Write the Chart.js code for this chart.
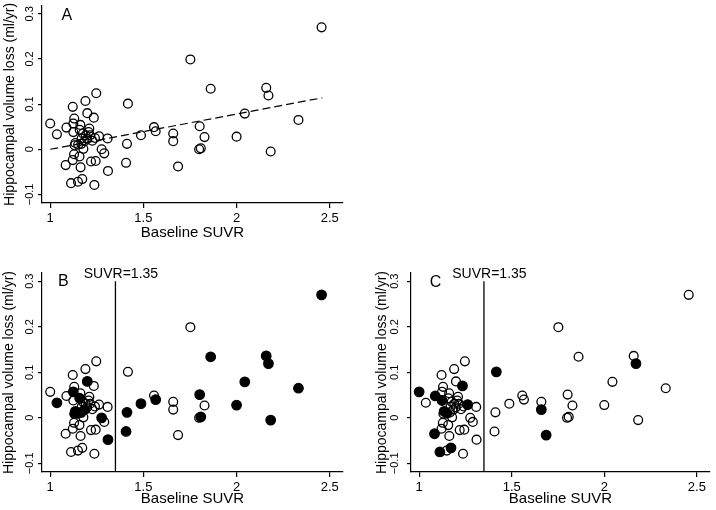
<!DOCTYPE html>
<html>
<head>
<meta charset="utf-8">
<script src="https://cdn.jsdelivr.net/npm/chart.js@4.4.1/dist/chart.umd.min.js"></script>
<style>
  html, body { margin: 0; padding: 0; background: #fff; overflow: hidden; }
  #wrap { position: relative; width: 716px; height: 510px; }
  canvas { position: absolute; }
</style>
</head>
<body>
<div id="wrap">
  <canvas id="chartA" width="358" height="245" style="left:0px;top:0px"></canvas>
  <canvas id="chartB" width="358" height="262" style="left:0px;top:248px"></canvas>
  <canvas id="chartC" width="347" height="262" style="left:369px;top:248px"></canvas>
</div>
<script>
// baseline SUVR and hippocampal volume loss, one entry per subject
const suvr = [
  1.000, 1.036, 1.083, 1.087, 1.112, 1.121, 1.121, 1.128, 1.129, 1.124,
  1.124, 1.135, 1.131, 1.150, 1.149, 1.157, 1.158, 1.162, 1.163, 1.172,
  1.167, 1.178, 1.169, 1.189, 1.190, 1.199, 1.206, 1.210, 1.219, 1.226,
  1.234, 1.237, 1.240, 1.244, 1.247, 1.262, 1.276, 1.290, 1.308, 1.310,
  1.407, 1.412, 1.417, 1.487, 1.557, 1.566, 1.660, 1.660, 1.686, 1.752,
  1.802, 1.799, 1.808, 1.828, 1.861, 2.000, 2.044, 2.159, 2.171, 2.183,
  2.332, 2.456, 1.185, 1.198, 1.214, 1.176
];
const hvLoss = [
  0.057, 0.033, -0.035, 0.048, -0.075, 0.094, -0.024, -0.011, 0.068, 0.057,
  0.038, 0.014, 0.009, 0.010, -0.072, -0.016, 0.043, 0.054, -0.040, -0.066,
  0.012, 0.001, 0.024, 0.107, 0.031, 0.080, 0.038, 0.046, -0.027, 0.019,
  0.070, -0.079, 0.025, -0.026, 0.124, 0.029, 0.000, -0.009, 0.024, -0.048,
  -0.030, 0.012, 0.101, 0.031, 0.049, 0.040, 0.035, 0.018, -0.038, 0.199,
  0.051, 0.000, 0.002, 0.027, 0.134, 0.028, 0.079, 0.136, 0.119, -0.005,
  0.065, 0.270, 0.018, 0.023, 0.031, 0.035
];
// 1 = solid marker in panel B / panel C
const solidB = [
  0, 1, 0, 0, 0, 0, 0, 0, 0, 1,
  0, 1, 1, 1, 0, 0, 1, 0, 0, 0,
  1, 0, 0, 0, 0, 1, 0, 0, 0, 0,
  0, 0, 0, 0, 0, 0, 1, 0, 0, 1,
  1, 1, 0, 1, 0, 1, 0, 0, 0, 0,
  1, 0, 1, 0, 1, 1, 1, 1, 1, 1,
  1, 1, 1, 0, 0, 0
];
const solidC = [
  1, 0, 1, 1, 1, 0, 0, 0, 0, 0,
  1, 1, 0, 1, 0, 0, 0, 0, 0, 1,
  0, 0, 0, 0, 0, 0, 0, 0, 0, 0,
  1, 0, 0, 0, 0, 1, 0, 0, 0, 0,
  0, 0, 1, 0, 0, 0, 0, 1, 1, 0,
  0, 0, 0, 0, 0, 0, 0, 0, 1, 0,
  0, 0, 0, 0, 0, 0
];

const xTicks = [1, 1.5, 2, 2.5];
const yTicks = [-0.1, 0, 0.1, 0.2, 0.3];
const fitX = [1, 2.46];
const fitY = [0.0, 0.114];
const cutoff = 1.35;
const cutoffTop = 0.3;

const X_MIN = 0.956, X_MAX = 2.571;
const Y_MIN = -0.119, Y_MAX = 0.318;

Chart.defaults.font.family = '"Liberation Sans", Arial, sans-serif';
Chart.defaults.color = '#000';
Chart.defaults.animation = false;

const panelText = {
  id: 'panelText',
  afterDraw(chart, args, opts) {
    const {ctx, chartArea} = chart;
    const x = chart.scales.x, y = chart.scales.y;
    ctx.save();
    ctx.fillStyle = '#000';
    ctx.textAlign = 'center';
    ctx.textBaseline = 'middle';
    ctx.font = '16px "Liberation Sans", Arial, sans-serif';
    ctx.fillText(opts.letter, x.getPixelForValue(opts.letterAt[0]), y.getPixelForValue(opts.letterAt[1]));
    if (opts.cut) {
      ctx.font = '14px "Liberation Sans", Arial, sans-serif';
      ctx.fillText('SUVR=' + cutoff, x.getPixelForValue(cutoff) + 5.5, chartArea.top + 1.5);
    }
    ctx.restore();
  }
};

function splitPoints(solid) {
  const open = [], filled = [];
  suvr.forEach((v, i) => {
    const p = {x: v, y: hvLoss[i]};
    if (solid && solid[i]) filled.push(p); else open.push(p);
  });
  return {open, filled};
}

function makePanel(id, cfg) {
  const pts = splitPoints(cfg.solid);
  const datasets = [];
  datasets.push({
    data: pts.filled, pointRadius: 4.8, pointBorderWidth: 1.2,
    pointBackgroundColor: '#000', pointBorderColor: '#000'
  });
  datasets.push({
    data: pts.open, pointRadius: 4.4, pointBorderWidth: 1.3,
    pointBackgroundColor: 'rgba(0,0,0,0)', pointBorderColor: '#000'
  });
  if (cfg.fit) {
    datasets.push({
      data: fitX.map((v, i) => ({x: v, y: fitY[i]})),
      showLine: true, pointRadius: 0, borderColor: '#000', borderWidth: 1.2,
      borderDash: [8, 4], fill: false
    });
  }
  if (cfg.cut) {
    datasets.push({
      data: [{x: cutoff, y: Y_MIN}, {x: cutoff, y: cutoffTop}],
      showLine: true, pointRadius: 0, borderColor: '#000', borderWidth: 1.3, fill: false
    });
  }

  return new Chart(document.getElementById(id), {
    type: 'scatter',
    data: {datasets},
    options: {
      responsive: false,
      events: [],
      layout: {padding: {top: cfg.padTop, right: cfg.padRight, left: 0, bottom: 0}},
      plugins: {
        legend: {display: false},
        tooltip: {enabled: false},
        panelText: {letter: cfg.letter, letterAt: cfg.letterAt, cut: cfg.cut}
      },
      scales: {
        x: {
          type: 'linear', min: X_MIN, max: X_MAX,
          afterBuildTicks: s => { s.ticks = xTicks.map(v => ({value: v})); },
          afterFit: s => { s.height = cfg.xHeight; },
          ticks: {font: {size: 13}, padding: 3, maxRotation: 0, autoSkip: false,
                  callback: v => String(v)},
          grid: {drawOnChartArea: false, tickLength: 5, color: '#000', lineWidth: 1.2},
          border: {color: '#000', width: 1.2},
          title: {display: true, text: 'Baseline SUVR', font: {size: 15},
                  padding: {top: 0, bottom: cfg.xTitlePad}}
        },
        y: {
          type: 'linear', min: Y_MIN, max: Y_MAX,
          afterBuildTicks: s => { s.ticks = yTicks.map(v => ({value: v})); },
          afterFit: s => { s.width = 42; },
          ticks: {font: {size: 11}, minRotation: 90, maxRotation: 90, crossAlign: 'center',
                  padding: cfg.yTickPad, autoSkip: false,
                  callback: v => (v < 0 ? '\u2212' + Math.abs(v) : String(v))},
          grid: {drawOnChartArea: false, tickLength: 4, color: '#000', lineWidth: 1.2},
          border: {color: '#000', width: 1.2},
          title: {display: true, text: 'Hippocampal volume loss (ml/yr)', font: {size: 14},
                  padding: {top: cfg.yTitlePad, bottom: 0}}
        }
      }
    },
    plugins: [panelText]
  });
}

makePanel('chartA', {letter: 'A', letterAt: [1.089, 0.297], fit: true, cut: false,
  padTop: 3, padRight: 15, xHeight: 42, xTitlePad: 3, yTickPad: -3, yTitlePad: 2});
makePanel('chartB', {letter: 'B', letterAt: [1.071, 0.299], fit: false, cut: true, solid: solidB,
  padTop: 25, padRight: 15, xHeight: 38, xTitlePad: 2, yTickPad: -3, yTitlePad: 1});
makePanel('chartC', {letter: 'C', letterAt: [1.088, 0.298], fit: false, cut: true, solid: solidC,
  padTop: 25, padRight: 0, xHeight: 38, xTitlePad: 2, yTickPad: 1, yTitlePad: 5});
</script>
</body>
</html>
